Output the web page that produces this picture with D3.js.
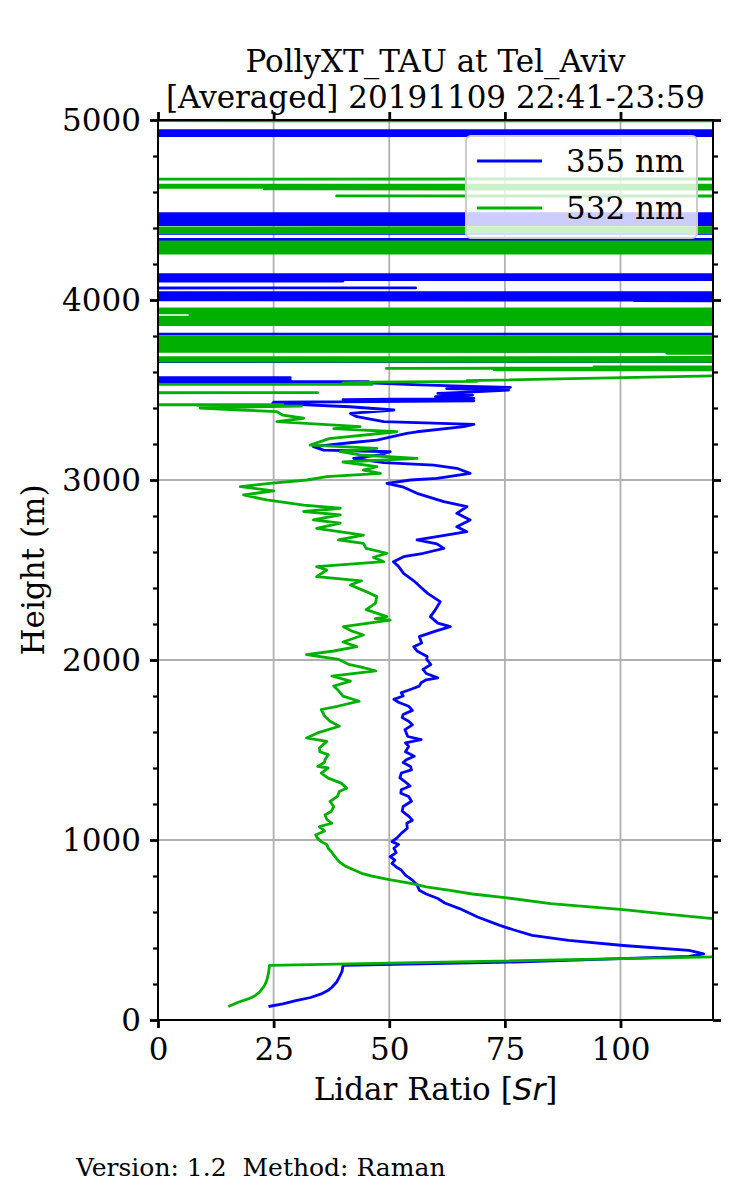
<!DOCTYPE html>
<html>
<head>
<meta charset="utf-8">
<script src="https://cdn.jsdelivr.net/npm/d3@7"></script>
<style>
  body { margin: 0; background: #fff; }
  svg { display: block; font-family: "DejaVu Serif", serif; }
</style>
</head>
<body>
<div id="chart"></div>
<script>
"use strict";
// [height (m), lidar ratio (sr)]
const lidarRatio355 = [
  [75,23.9],[90,27],[108,29.8],[125,33],[145,35.3],[165,36.8],[182,37.6],[210,38.6],[238,39.2],[270,39.8],[303,40.0],
  [322,77],[353,114.8],[368,118.0],[387,114.8],[414,100.6],[442,88.8],[470,80.9],[500,77],[526,73.9],[572,69.1],
  [619,65.2],[650,62],[675,60.5],[700,58],[721,56.5],[750,56],[777,55.0],[805,53.5],[833,52.6],[850,51.5],[870,50.6],
  [888,51.2],[907,50.2],[930,51.5],[954,51.0],[975,52],[991,50.6],[1015,51.8],[1037,52.6],[1065,53.9],[1093,53.8],
  [1110,55],[1130,54.3],[1160,52.8],[1186,53.0],[1215,54.8],[1242,54.2],[1260,52.5],[1279,52.6],[1300,54.5],[1316,53.8],
  [1345,52.3],[1372,52.6],[1390,54.8],[1409,54.6],[1430,53],[1446,53.7],[1465,55.4],[1490,53.5],[1520,54.2],[1540,53.5],
  [1558,56.9],[1575,54],[1613,53.4],[1640,55],[1660,54.2],[1680,52.8],[1697,53.0],[1720,55],[1743,54.2],[1765,52],
  [1781,51.0],[1800,53],[1818,52.6],[1840,55],[1855,56.5],[1874,56.9],[1890,58],[1901,60.5],[1925,58],[1948,57.3],
  [1975,59],[2004,58.1],[2019,58.2],[2050,56],[2074,55.3],[2095,57],[2130,56.5],[2160,60],[2185,63.2],[2205,60.5],
  [2241,58.9],[2280,60],[2324,61.0],[2370,58.3],[2407,56.7],[2440,55.3],[2481,53.1],[2520,52],[2546,50.9],[2574,53.1],
  [2593,57.4],[2620,61.8],[2645,60.3],[2667,56.0],[2685,60.3],[2713,66.8],[2740,64.6],[2778,67.5],[2815,64.6],
  [2852,66.8],[2880,61.8],[2926,56.0],[2960,53.1],[2981,49.5],[3000,54.6],[3009,60.3],[3037,67.5],[3065,64.6],
  [3083,59.6],[3096,48.8],[3120,42.3],[3140,48],[3157,50.2],[3166,35.8],[3185,33.6],[3207,41.5],[3222,47.3],
  [3259,53.8],[3268,56.0],[3296,66.1],[3309,68.3],[3324,48.8],[3352,43.0],[3370,41.6],[3389,51.0],[3407,41.5],
  [3426,24.8],[3432,25.0],[3440,68.3],[3447,40],[3454,68.3],[3463,60],[3472,68],[3481,60.5],[3490,68.3],[3500,75.8],
  [3508,62.4],[3515,76.2],[3520,67.5],[3530,55],[3540,45.5],[3546,45.5],[3550,-1000],[3556,28.6],[3562,-1000],
  [3568,28.6],[3574,-1000],[3655,-1000],[3661,1000],[3712,1000],[3717,25.0],[3722,1000],[3776,1000],[3780,-1000],
  [3808,-1000],[3813,1000],[3993,1000],[3996,103],[4000,103],[4004,-1000],[4008,1000],[4013,-1000],[4018,1000],
  [4023,-1000],[4028,1000],[4033,-1000],[4038,1000],[4044,-1000],[4062,-1000],[4067,55.7],[4072,-1000],[4100,-1000],
  [4105,40],[4110,-1000],[4117,1000],[4122,-1000],[4127,1000],[4132,-1000],[4138,1000],[4144,-1000],[4334,-1000],
  [4338,1000],[4366,1000],[4370,110],[4374,-1000],[4417,-1000],[4420,1000],[4427,-1000],[4434,1000],[4441,-1000],
  [4448,1000],[4455,-1000],[4462,1000],[4469,-1000],[4476,1000],[4483,-1000],[4911,-1000],[4915,1000],[4921,-1000],
  [4927,1000],[4933,-1000],[4939,1000],[4944,-1000],[5000,-1000]
];
const lidarRatio532 = [
  [75,15.2],[100,17.5],[117,19.5],[135,21.0],[154,21.9],[190,23.0],[219,23.5],[260,23.9],[303,24.1],[360,140],
  [480,160],[563,120],[588,110],[613,100.6],[647,84.9],[680,75.0],[700,68],[721,62.8],[740,58],[758,55.0],[780,50],
  [799,46.3],[815,44],[833,42.4],[855,40.5],[879,39.2],[916,38.0],[935,37.5],[954,36.8],[975,36.5],[991,35.3],
  [1010,34.5],[1028,34.1],[1050,36],[1074,34.9],[1093,37.6],[1115,36.5],[1139,36.1],[1160,37.5],[1186,38.0],
  [1214,37.2],[1242,38.8],[1269,39.2],[1288,40.8],[1316,39.6],[1344,36.8],[1372,35.3],[1400,36.8],[1409,34.5],
  [1430,36],[1446,36.1],[1474,36.8],[1490,35],[1511,34.9],[1548,36.5],[1567,32.1],[1595,34.5],[1632,39.2],
  [1660,37.2],[1690,36],[1725,35.3],[1743,38.8],[1771,43.5],[1799,40.0],[1830,39],[1855,38.0],[1883,41.6],
  [1911,37.6],[1939,47.1],[1960,44],[1976,41.2],[2003,39.1],[2030,32.1],[2050,38],[2074,43.0],[2100,40],[2139,44.4],
  [2160,42],[2185,40.1],[2222,50.2],[2230,47],[2241,49.5],[2280,45],[2315,47],[2352,47.3],[2380,45],[2417,41.6],
  [2440,44],[2463,34.3],[2500,36.5],[2519,34.3],[2546,48.8],[2570,46.6],[2593,49.5],[2620,45],[2648,44.4],[2667,39],
  [2694,44.4],[2731,34.3],[2760,39.4],[2778,33.6],[2806,39.4],[2825,31.5],[2843,39.4],[2861,31.5],[2889,23.5],
  [2917,18.5],[2940,25],[2963,17.8],[2981,24.2],[3000,32.2],[3019,36.5],[3037,48.1],[3055,44.4],[3074,47.3],
  [3100,40],[3120,56.0],[3139,43.7],[3157,39.4],[3176,47.3],[3194,32.9],[3230,37],[3268,51.6],[3285,38],[3296,43.7],
  [3324,25.7],[3343,31.5],[3360,27],[3380,25.7],[3389,17.8],[3400,9.1],[3405,18],[3410,31],[3415,8.5],[3418,27],
  [3422,-1000],[3480,-1000],[3485,34.5],[3490,-1000],[3527,-1000],[3531,46.3],[3540,40],[3544,45.5],[3548,69],
  [3552,66.8],[3578,120],[3582,1000],[3608,1000],[3612,72.7],[3616,1000],[3620,49.4],[3623,107.7],[3628,94.3],
  [3632,1000],[3658,1000],[3662,-1000],[3668,1000],[3676,-1000],[3684,1000],[3700,1000],[3704,110],[3708,1000],
  [3722,-1000],[3730,1000],[3738,-1000],[3746,1000],[3754,-1000],[3762,1000],[3770,-1000],[3780,1000],[3790,-1000],
  [3796,1000],[3861,1000],[3866,-1000],[3874,1000],[3882,-1000],[3890,1000],[3898,-1000],[3905,43.9],[3910,1000],
  [3918,6.9],[3925,1000],[3932,-1000],[3940,1000],[3947,-1000],[3954,1000],[4259,1000],[4263,-1000],[4270,1000],
  [4277,-1000],[4284,1000],[4291,-1000],[4298,1000],[4305,-1000],[4312,1000],[4319,-1000],[4326,1000],[4372,1000],
  [4376,-1000],[4386,1000],[4396,-1000],[4406,1000],[4574,1000],[4578,38.6],[4582,1000],[4613,1000],[4617,23.0],
  [4621,1000],[4630,-1000],[4636,1000],[4640,-1000],[4670,-1000],[4674,1000],[4994,1000],[4998,-1000]
];
const seriesNames = ["355 nm", "532 nm"];
const seriesColors = ["#0000ff", "#00b000"];
const xTicks = [0, 25, 50, 75, 100];
const yTicks = [0, 1000, 2000, 3000, 4000, 5000];
const titleLines = ["PollyXT_TAU at Tel_Aviv", "[Averaged] 20191109 22:41-23:59"];

const width = 750, height = 1200;
const plotLeft = 158, plotRight = 713, plotTop = 120, plotBottom = 1020;
const fontSize = 31;

const svg = d3.select("#chart").append("svg")
    .attr("width", width)
    .attr("height", height);
svg.append("rect").attr("width", width).attr("height", height).attr("fill", "#fff");

const x = d3.scaleLinear().domain([0, 120]).range([plotLeft, plotRight]);
const y = d3.scaleLinear().domain([0, 5000]).range([plotBottom, plotTop]);
const yMinor = d3.range(0, 5001, 200).filter(v => v % 1000 !== 0);

// grid
const grid = svg.append("g").attr("stroke", "#b0b0b0").attr("stroke-width", 1.8);
grid.selectAll(".gx").data(xTicks.slice(1)).enter().append("line")
    .attr("x1", d => x(d)).attr("x2", d => x(d)).attr("y1", plotTop).attr("y2", plotBottom);
grid.selectAll(".gy").data(yTicks.slice(1, -1)).enter().append("line")
    .attr("x1", plotLeft).attr("x2", plotRight).attr("y1", d => y(d)).attr("y2", d => y(d));

svg.append("clipPath").attr("id", "plot-clip")
    .append("rect").attr("x", plotLeft).attr("y", plotTop)
    .attr("width", plotRight - plotLeft).attr("height", plotBottom - plotTop);

const line = d3.line().x(d => x(d[1])).y(d => y(d[0]));
[lidarRatio355, lidarRatio532].forEach((series, i) => {
    svg.append("path")
        .datum(series)
        .attr("clip-path", "url(#plot-clip)")
        .attr("fill", "none")
        .attr("stroke", seriesColors[i])
        .attr("stroke-width", 2.8)
        .attr("stroke-linejoin", "round")
        .attr("d", line);
});

// axes
function styleAxis(g, w) {
    g.select(".domain").remove();
    g.selectAll(".tick line").attr("stroke", "#000").attr("stroke-width", w);
    g.selectAll(".tick text").attr("font-family", "DejaVu Serif").attr("font-size", fontSize).attr("fill", "#000");
}
svg.append("g").attr("transform", `translate(${plotLeft},0)`)
    .call(d3.axisLeft(y).tickValues(yMinor).tickSize(5).tickFormat(""))
    .call(g => styleAxis(g, 2.2));
svg.append("g").attr("transform", `translate(${plotRight},0)`)
    .call(d3.axisRight(y).tickValues(yMinor).tickSize(5).tickFormat(""))
    .call(g => styleAxis(g, 2.2));
svg.append("g").attr("transform", `translate(${plotLeft},0)`)
    .call(d3.axisLeft(y).tickValues(yTicks).tickSize(8).tickPadding(9).tickFormat(d3.format("d")))
    .call(g => styleAxis(g, 2.8))
    .call(g => g.selectAll(".tick text").attr("dy", "0.34em"));
svg.append("g").attr("transform", `translate(${plotRight},0)`)
    .call(d3.axisRight(y).tickValues(yTicks).tickSize(8).tickFormat(""))
    .call(g => styleAxis(g, 2.8));
svg.append("g").attr("transform", `translate(0,${plotBottom})`)
    .call(d3.axisBottom(x).tickValues(xTicks).tickSize(8).tickPadding(10).tickFormat(d3.format("d")))
    .call(g => styleAxis(g, 2.8))
    .call(g => g.selectAll(".tick text").attr("dy", "0.72em"));
svg.append("g").attr("transform", `translate(0,${plotTop})`)
    .call(d3.axisTop(x).tickValues(xTicks).tickSize(8).tickFormat(""))
    .call(g => styleAxis(g, 2.8));

// spines
svg.append("rect")
    .attr("x", plotLeft).attr("y", plotTop)
    .attr("width", plotRight - plotLeft).attr("height", plotBottom - plotTop)
    .attr("fill", "none").attr("stroke", "#000").attr("stroke-width", 2);

// legend
const legend = svg.append("g");
legend.append("rect")
    .attr("x", 466).attr("y", 136).attr("width", 231).attr("height", 102)
    .attr("rx", 5)
    .attr("fill", "#fff").attr("fill-opacity", 0.8)
    .attr("stroke", "#cccccc").attr("stroke-width", 2);
seriesNames.forEach((name, i) => {
    const ly = 161 + i * 47;
    legend.append("line")
        .attr("x1", 477).attr("x2", 542).attr("y1", ly).attr("y2", ly)
        .attr("stroke", seriesColors[i]).attr("stroke-width", 2.8);
    legend.append("text")
        .attr("x", 566).attr("y", ly + 10.5)
        .attr("font-size", fontSize)
        .text(name);
});

// titles and labels
svg.append("g").selectAll("text").data(titleLines).enter().append("text")
    .attr("x", (plotLeft + plotRight) / 2)
    .attr("y", (d, i) => 72 + i * 36)
    .attr("text-anchor", "middle")
    .attr("font-size", fontSize)
    .text(d => d);

svg.append("text")
    .attr("transform", `translate(44,${(plotTop + plotBottom) / 2}) rotate(-90)`)
    .attr("text-anchor", "middle")
    .attr("font-size", fontSize)
    .text("Height (m)");

const xLabel = svg.append("text")
    .attr("x", (plotLeft + plotRight) / 2)
    .attr("y", 1100)
    .attr("text-anchor", "middle")
    .attr("font-size", fontSize);
xLabel.append("tspan").text("Lidar Ratio [");
xLabel.append("tspan").attr("font-family", "DejaVu Sans").attr("font-style", "italic").text("Sr");
xLabel.append("tspan").text("]");

svg.append("text")
    .attr("x", 76)
    .attr("y", 1176)
    .attr("font-size", 25)
    .style("white-space", "pre")
    .text("Version: 1.2  Method: Raman");
</script>
</body>
</html>
